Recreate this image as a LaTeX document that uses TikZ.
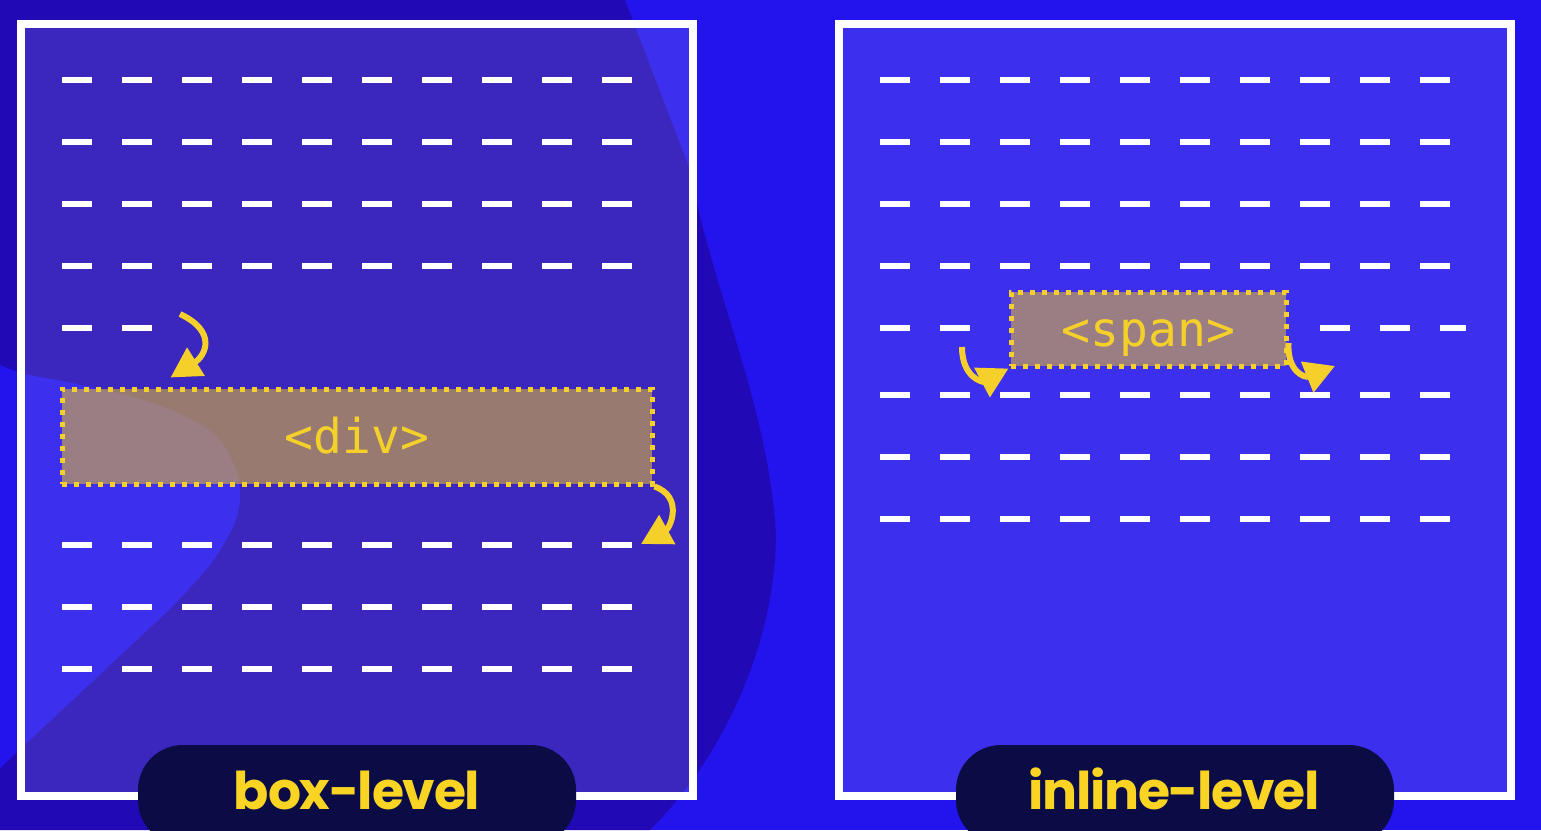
\documentclass[tikz,border=0pt]{standalone}
\usepackage{fontspec}
\newfontfamily\popfont{Poppins}[LetterSpace=-2.5]
\newfontfamily\codefont{DejaVu Sans Mono}
\usetikzlibrary{arrows.meta}
\definecolor{bgblue}{HTML}{2313EC}
\definecolor{bgdark}{HTML}{2109B6}
\definecolor{tagfill}{HTML}{D9B33D}
\definecolor{tagline}{HTML}{F5D02A}
\definecolor{pillnavy}{HTML}{0B0C45}
\definecolor{labelyellow}{HTML}{F9D423}
\tikzset{
  panel/.style={draw=white,line width=4pt,fill=white,fill opacity=0.12},
  textline/.style={white,line width=2.6pt},
  tagbox/.style={draw=tagline,line width=2.5pt,dash pattern=on 2.5pt off 3.5pt,
    fill=tagfill,fill opacity=0.6,text opacity=1,text=tagline,inner sep=0pt,
    text height=17pt,text depth=0pt,font=\codefont\fontsize{24}{24}\selectfont},
  flow/.style={draw=tagline,line width=3pt,-{Triangle[length=15pt,width=16pt]}},
  pill/.style={fill=pillnavy,rounded corners=22.5pt},
  level/.style={text=labelyellow,anchor=base,font=\popfont\bfseries\fontsize{26}{26}\selectfont}
}
\begin{document}
\begin{tikzpicture}[x=0.5pt,y=-0.5pt]
  \useasboundingbox (0,0) rectangle (1541,830);
  \clip (0,0) rectangle (1541,830);
  % background blobs
  \fill[bgblue] (0,0) rectangle (1541,830);
  \fill[bgdark] (0,0) -- (625,0) -- (690,170) .. controls (712,290) and (770,410) .. (776,537)
    .. controls (774,650) and (720,760) .. (650,830) -- (0,830) -- cycle;
  \fill[bgblue] plot[smooth] coordinates {(0,365) (25,374) (67,382) (133,397) (187,417)
    (220,440) (237,473) (240,500) (233,527) (210,565) (170,609)} -- (0,768) -- cycle;
  % panels
  \draw[panel] (21,24) rectangle (693,796);
  \draw[panel] (839,24) rectangle (1511,796);
  % lines of text, box-level
  \foreach \y in {80,142,204,266,545,607,669}
    \foreach \x in {62,122,...,602}
      \draw[textline] (\x,\y) -- ++(30,0);
  \foreach \x in {62,122}
    \draw[textline] (\x,328) -- ++(30,0);
  % lines of text, inline-level
  \foreach \y in {80,142,204,266,395,457,519}
    \foreach \x in {880,940,...,1420}
      \draw[textline] (\x,\y) -- ++(30,0);
  \foreach \x in {880,940,1320,1380}
    \draw[textline] (\x,328) -- ++(30,0);
  \draw[textline] (1440,328) -- ++(26,0);
  % elements
  \node[tagbox,minimum width=295pt,minimum height=47.5pt] (div) at (357,436.5) {<div>};
  \node[tagbox,minimum width=137.5pt,minimum height=37pt] (span) at (1148.5,329) {<span>};
  % flow arrows
  \coordinate (divin) at (180,314);
  \coordinate (divout) at (641,544);
  \coordinate (spanin) at (962,347);
  \coordinate (spanout) at (1335,366);
  \draw[flow] (divin) .. controls (218,332) and (205,356) .. ([xshift=55.5pt,yshift=4.5pt]div.north west);
  \draw[flow] (div.south east) .. controls (684,497) and (670,528) .. (divout);
  \draw[flow] (spanin) .. controls (962,378) and (983,382) .. (span.south west);
  \draw[flow] ([yshift=-7pt]span.east) .. controls (1287,372) and (1305,378) .. (spanout);
  % labels
  \fill[pill] (138,745) rectangle (576,845);
  \fill[pill] (956,745) rectangle (1394,845);
  \node[level] (boxlabel) at (357,809) {box-level};
  \node[level] (inlinelabel) at (1174,809) {inline-level};
\end{tikzpicture}
\end{document}
